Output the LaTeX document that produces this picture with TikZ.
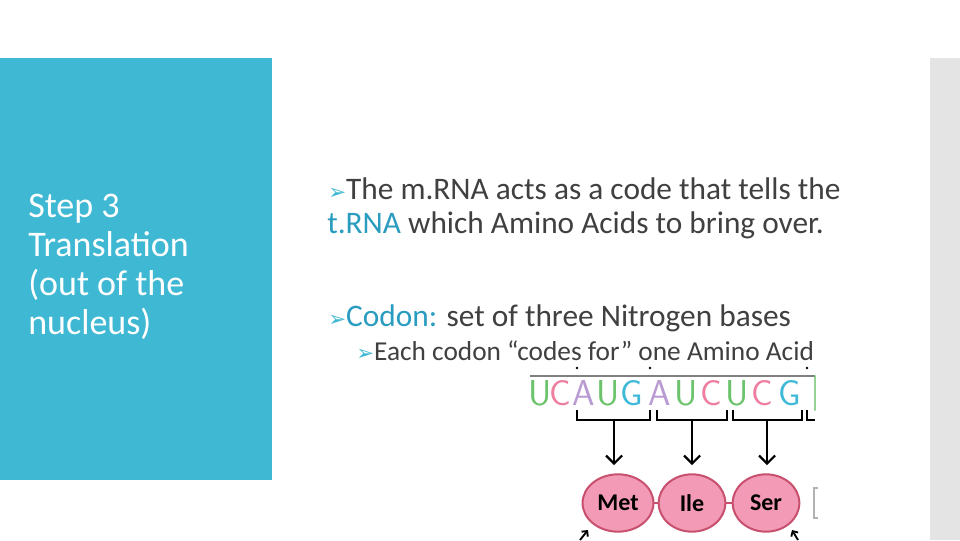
\documentclass[tikz,border=0pt]{standalone}
\usepackage{fontspec}
\setmainfont{Carlito}
\newfontfamily\symf{DejaVu Sans}
\definecolor{panel}{HTML}{3FB8D3}
\definecolor{txt}{HTML}{404040}
\definecolor{hl}{HTML}{2A9CC0}
\definecolor{gbar}{HTML}{E4E4E4}
\definecolor{ug}{HTML}{6CC36C}
\definecolor{cp}{HTML}{EE7FA0}
\definecolor{ap}{HTML}{B99AD2}
\definecolor{gc}{HTML}{3EB9D8}
\definecolor{aa}{HTML}{F39BB6}
\definecolor{aaE}{HTML}{C8506E}
\tikzset{
  body/.style={anchor=west,text=txt,font=\fontsize{23.5}{27}\selectfont,inner sep=0pt},
  sub/.style={anchor=west,text=txt,font=\fontsize{20.5}{24}\selectfont,inner sep=0pt},
  base/.style={font=\fontsize{27}{30}\sffamily\selectfont,inner sep=0pt},
  amino/.style={ellipse,draw=aaE,line width=1.5pt,fill=aa,minimum width=50pt,minimum height=43pt,font=\bfseries\fontsize{18}{20}\selectfont},
  brk/.style={line width=1.6pt},
  arr/.style={line width=1.6pt,-{Straight Barb[length=6pt,width=12pt]}}
}
\usetikzlibrary{shapes.geometric,arrows.meta}
\newcommand{\bul}{{\color{panel}\symf\fontsize{16}{16}\selectfont➢}}
\begin{document}
\begin{tikzpicture}[x=0.75pt,y=-0.75pt]
\useasboundingbox (0,0) rectangle (960,540);
\fill[white] (0,0) rectangle (960,540);
\fill[panel] (0,58) rectangle (272,480);
\fill[gbar] (930,58) rectangle (960,540);
\node[anchor=north west,align=left,text=white,font=\fontsize{27}{29.3}\selectfont,inner sep=0pt] (title) at (28,194) {Step 3\\Translation\\(out of the\\nucleus)};
\node[body] (l1) at (328,189) {\bul The m.RNA acts as a code that tells the};
\node[body] (l2) at (327,225) {{\color{hl}t.RNA} which Amino Acids to bring over.};
\node[body] (l3) at (328,318) {\bul{\color{hl}Codon:} set of three Nitrogen bases};
\node[sub] (l4) at (356,351) {\bul Each codon “codes for” one Amino Acid};
% mRNA strip
\draw[gray,line width=1.2pt] (530,376) -- (815,376);
\foreach \x in {577,650,807} \fill (\x,368) circle (1pt);
\foreach \x/\l/\c in {540/U/ug,560/C/cp,584/A/ap,608/U/ug,632/G/gc,660/A/ap,686/U/ug,711/C/cp,737/U/ug,762/C/cp,790/G/gc}
  \node[base,text=\c] (b\x) at (\x,393) {\l};
\node[base,text=ug] (bp) at (815,393) {|};
\foreach \a/\b/\m/\n in {577/650/614/met,657/727/692/ile,733/802/767/ser}{
  \draw[brk] (\a,410) -- (\a,420) -- (\b,420) -- (\b,410);
  \coordinate (t\n) at (\m,420);
}
\draw[brk] (807,410) -- (807,420) -- (815,420);
\node[amino] (met) at (618,503) {Met};
\node[amino] (ile) at (692,503) {Ile};
\node[amino] (ser) at (766,503) {Ser};
\draw[aaE,line width=1.5pt] (met) -- (ile) (ile) -- (ser);
\coordinate (hm) at (614,465); \coordinate (hi) at (692,465); \coordinate (hs) at (767,465);
\draw[arr] (tmet) -- (hm);
\draw[arr] (tile) -- (hi);
\draw[arr] (tser) -- (hs);
\draw[gray!60,line width=2pt] (818,488) -- (814,488) -- (814,518) -- (818,518);
\coordinate (s1) at (580,540); \coordinate (e1) at (588,530);
\coordinate (s2) at (798,540); \coordinate (e2) at (792,530);
\draw[line width=1.4pt,-{Straight Barb[length=3pt]}] (s1) -- (e1);
\draw[line width=1.4pt,-{Straight Barb[length=3pt]}] (s2) -- (e2);
\end{tikzpicture}
\end{document}
